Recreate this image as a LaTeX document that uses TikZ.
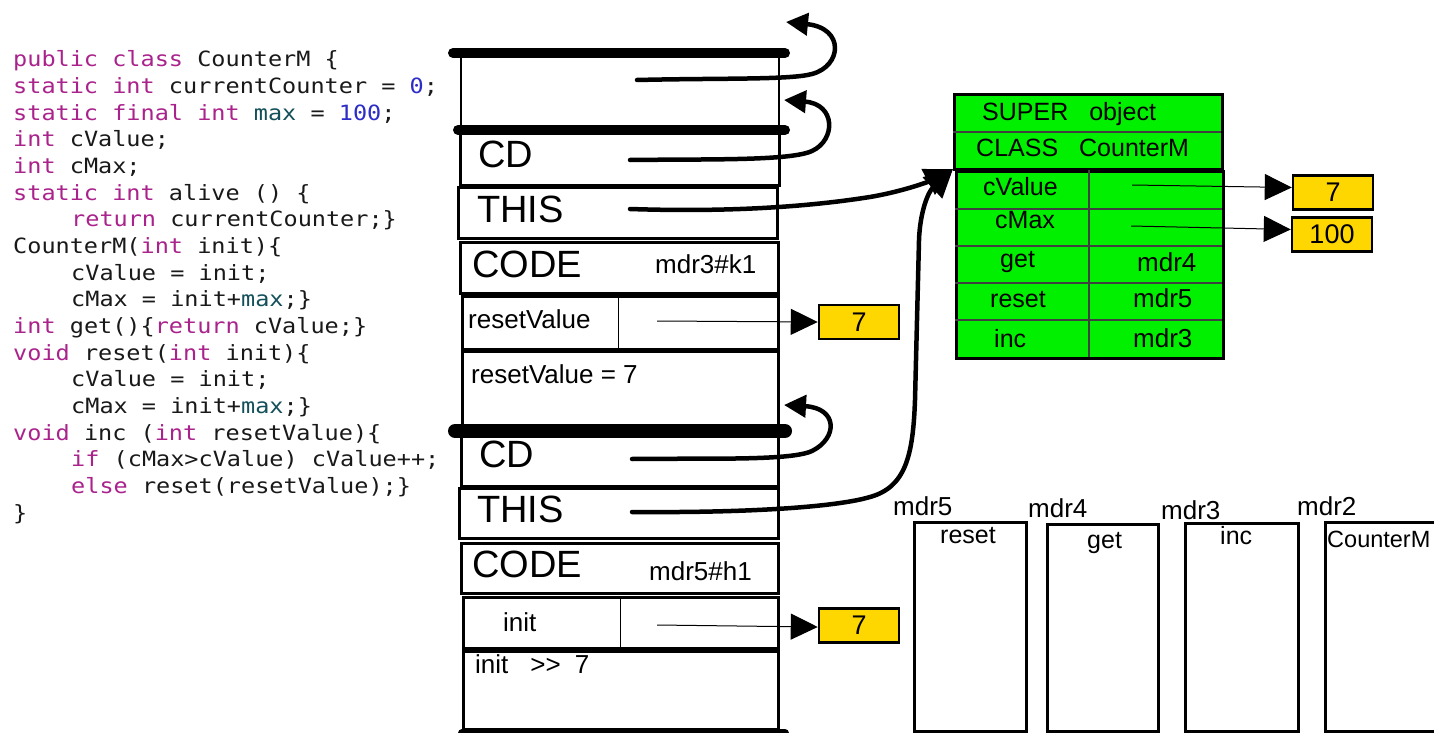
\documentclass[tikz,border=0pt]{standalone}
\usepackage{fontspec}
\setmainfont{Liberation Sans}
\newfontfamily\codefont[FakeStretch=1.12]{DejaVu Sans Mono}
\usetikzlibrary{arrows.meta}
\definecolor{kwcol}{RGB}{170,35,140}
\definecolor{numcol}{RGB}{45,45,200}
\definecolor{fldcol}{RGB}{20,80,90}
\definecolor{objgreen}{RGB}{0,240,0}
\definecolor{valyellow}{RGB}{255,215,0}
\newcommand{\kwd}[1]{\textcolor{kwcol}{#1}}
\newcommand{\numc}[1]{\textcolor{numcol}{#1}}
\newcommand{\fldc}[1]{\textcolor{fldcol}{#1}}
\begin{document}
\begin{tikzpicture}[x=1pt,y=-1pt,
  framebox/.style={draw, line width=2.5pt, anchor=north west, inner sep=0pt},
  codeline/.style={anchor=base west, inner sep=0pt, text=black!90, font=\codefont\fontsize{21}{26}\selectfont},
  lbl/.style={anchor=base west, inner sep=0pt, font=\fontsize{26}{28}\selectfont},
  biglbl/.style={anchor=base west, inner sep=0pt, font=\fontsize{38}{40}\selectfont},
  glbl/.style={anchor=base west, inner sep=0pt, font=\fontsize{25}{27}\selectfont},
  ybox/.style={draw, fill=valyellow, line width=2.5pt, minimum width=80pt, minimum height=34pt, inner sep=0pt, font=\fontsize{27}{29}\selectfont},
  ptrarrow/.style={line width=1pt, -{Triangle[length=27pt,width=26pt]}},
  hand/.style={line width=4.5pt, line cap=round, line join=round, -{Triangle[length=22pt,width=22pt]}},
  handbig/.style={line width=4.5pt, line cap=round, line join=round, -{Triangle[length=28pt,width=28pt]}},
  stackbar/.style={line width=10pt, line cap=round},
  gdiv/.style={line width=1.2pt, black!75}
]
\useasboundingbox (0,0) rectangle (1434,733);
\fill[white] (0,0) rectangle (1434,733);

% ---------- code listing ----------
\node[codeline] (c1) at (13,67) {\kwd{public class} CounterM \{};
\node[codeline] (c2) at (13,93.65) {\kwd{static int} currentCounter = \numc{0};};
\node[codeline] (c3) at (13,120.3) {\kwd{static final int} \fldc{max} = \numc{100};};
\node[codeline] (c4) at (13,146.95) {\kwd{int} cValue;};
\node[codeline] (c5) at (13,173.6) {\kwd{int} cMax;};
\node[codeline] (c6) at (13,200.25) {\kwd{static int} alive () \{};
\node[codeline] (c7) at (71,226.9) {\kwd{return} currentCounter;\}};
\node[codeline] (c8) at (13,253.55) {CounterM(\kwd{int} init)\{};
\node[codeline] (c9) at (71,280.2) {cValue = init;};
\node[codeline] (c10) at (71,306.85) {cMax = init+\fldc{max};\}};
\node[codeline] (c11) at (13,333.5) {\kwd{int} get()\{\kwd{return} cValue;\}};
\node[codeline] (c12) at (13,360.15) {\kwd{void} reset(\kwd{int} init)\{};
\node[codeline] (c13) at (71,386.8) {cValue = init;};
\node[codeline] (c14) at (71,413.45) {cMax = init+\fldc{max};\}};
\node[codeline] (c15) at (13,440.1) {\kwd{void} inc (\kwd{int} resetValue)\{};
\node[codeline] (c16) at (71,466.75) {\kwd{if} (cMax>cValue) cValue++;};
\node[codeline] (c17) at (71,493.4) {\kwd{else} reset(resetValue);\}};
\node[codeline] (c18) at (13,520.05) {\}};

% ---------- stack ----------
\node[framebox, line width=2pt, minimum width=318pt, minimum height=77pt] (f0) at (460,53) {};
\node[framebox, minimum width=319pt, minimum height=54pt] (cd1) at (459,130) {};
\node[framebox, line width=3pt, minimum width=319pt, minimum height=51pt] (this1) at (457,186) {};
\node[framebox, minimum width=318pt, minimum height=51pt] (code1) at (459,241) {};
\node[framebox, minimum width=316pt, minimum height=53pt] (rv) at (461,295) {};
\node[framebox, minimum width=316pt, minimum height=81pt] (rvt) at (461,350) {};
\node[framebox, minimum width=317pt, minimum height=54pt] (cd2) at (460,431) {};
\node[framebox, line width=3pt, minimum width=319pt, minimum height=50pt] (this2) at (458,487) {};
\node[framebox, minimum width=317pt, minimum height=50pt] (code2) at (460,542) {};
\node[framebox, minimum width=315pt, minimum height=51pt] (initrow) at (462,596) {};
\node[framebox, minimum width=315pt, minimum height=78pt] (initt) at (462,650) {};
\draw[line width=1pt] (618,295) -- (618,348);
\draw[line width=1pt] (620,596) -- (620,647);

\draw[stackbar] (453,53) -- (785,53);
\draw[stackbar] (458,130) -- (785,130);
\draw[stackbar, line width=14pt] (455,431) -- (785,431);
\draw[stackbar, line width=8pt] (462,733) -- (785,733);

\node[biglbl] (tcd1) at (478,167) {CD};
\node[biglbl] (tthis1) at (477,222) {THIS};
\node[biglbl] (tcode1) at (472,277) {CODE};
\node[lbl] (tmdr3k) at (655,273) {mdr3\#k1};
\node[lbl] (trv) at (468,328) {resetValue};
\node[lbl] (trvt) at (471,383) {resetValue = 7};
\node[biglbl] (tcd2) at (479,467) {CD};
\node[biglbl] (tthis2) at (477,522) {THIS};
\node[biglbl] (tcode2) at (472,577) {CODE};
\node[lbl] (tmdr5h) at (649,580) {mdr5\#h1};
\node[lbl] (tinit) at (503,631) {init};
\node[lbl] (tinitt) at (475,673) {init\hspace{22pt}>{}>\hspace{14pt}7};

% values
\node[ybox] (vrv) at (859,322) {7};
\node[ybox] (vinit) at (859,625.5) {7};
\coordinate (prv) at (657,321);
\coordinate (pinit) at (657,625);
\draw[ptrarrow] (prv) -- (vrv.west);
\draw[ptrarrow] (pinit) -- ([yshift=-1.5pt]vinit.west);

% ---------- object ----------
\node[framebox, line width=3pt, fill=objgreen, minimum width=268pt, minimum height=75pt] (objhead) at (953,93) {};
\node[framebox, line width=3pt, fill=objgreen, minimum width=267pt, minimum height=187pt] (objbody) at (955,170) {};
\draw[gdiv] (953,132) -- (1221,132);
\draw[gdiv] (955,209) -- (1222,209);
\draw[gdiv] (955,246) -- (1222,246);
\draw[gdiv] (955,283) -- (1222,283);
\draw[gdiv] (955,320) -- (1222,320);
\draw[gdiv] (1089,170) -- (1089,357);
\node[glbl] (tsuper) at (982,121) {SUPER\hspace{21pt}object};
\node[glbl] (tclass) at (976,156) {CLASS\hspace{21pt}CounterM};
\node[glbl] (tcv) at (983,195) {cValue};
\node[glbl] (tcm) at (995,228) {cMax};
\node[glbl] (tget) at (1000,267) {get};
\node[glbl] (treset) at (990,307) {reset};
\node[glbl] (tinc) at (994,347) {inc};
\node[lbl] (tm4) at (1137,271) {mdr4};
\node[lbl] (tm5) at (1133,307) {mdr5};
\node[lbl] (tm3) at (1133,347) {mdr3};
\node[ybox] (vcv) at (1333,192.5) {7};
\node[ybox] (vcm) at (1332,234.5) {100};
\coordinate (pcv) at (1132,185);
\coordinate (pcm) at (1131,226);
\draw[ptrarrow] (pcv) -- ([yshift=5pt]vcv.west);
\draw[ptrarrow] (pcm) -- ([yshift=5pt]vcm.west);

% ---------- method area ----------
\node[framebox, line width=3pt, minimum width=112pt, minimum height=209pt] (mreset) at (913,521) {};
\node[framebox, line width=3pt, minimum width=111pt, minimum height=207pt] (mget) at (1046,523) {};
\node[framebox, line width=3pt, minimum width=113pt, minimum height=208pt] (minc) at (1184,522) {};
\node[framebox, line width=3pt, minimum width=130pt, minimum height=209pt] (mctor) at (1324,521) {};
\node[lbl] (lm5) at (893,515) {mdr5};
\node[lbl] (lm4) at (1028,517) {mdr4};
\node[lbl] (lm3) at (1161,519) {mdr3};
\node[lbl] (lm2) at (1297,515) {mdr2};
\node[glbl] (mtreset) at (940,543) {reset};
\node[glbl] (mtget) at (1087,548) {get};
\node[glbl] (mtinc) at (1220,544) {inc};
\node[glbl, font=\fontsize{23.5}{25}\selectfont] (mtctor) at (1327,547) {CounterM};

% ---------- hand-drawn links ----------
\coordinate (s1) at (637,80);
\coordinate (t1) at (786,22);
\coordinate (s2) at (630,160);
\coordinate (t2) at (784,100);
\coordinate (s3) at (630,209);
\coordinate (s4) at (632,459);
\coordinate (t4) at (784,405);
\coordinate (s5) at (632,512);
\coordinate (objc) at (953,169);
\draw[hand] (s1) .. controls (720,78) and (790,80) .. (812,74) .. controls (842,66) and (845,28) .. (t1);
\draw[hand] (s2) .. controls (710,159) and (790,161) .. (812,151) .. controls (836,140) and (836,104) .. (t2);
\draw[hand] (s4) .. controls (710,458) and (790,461) .. (812,451) .. controls (838,438) and (838,408) .. (t4);
\draw[handbig] (s3) .. controls (720,212) and (800,208) .. (870,197) .. controls (905,191) and (930,181) .. (objc);
\draw[handbig] (s5) .. controls (760,513) and (840,506) .. (870,497) .. controls (906,487) and (913,455) .. (915,400) -- (919,240) .. controls (920,212) and (928,192) .. (objc);
\end{tikzpicture}
\end{document}
